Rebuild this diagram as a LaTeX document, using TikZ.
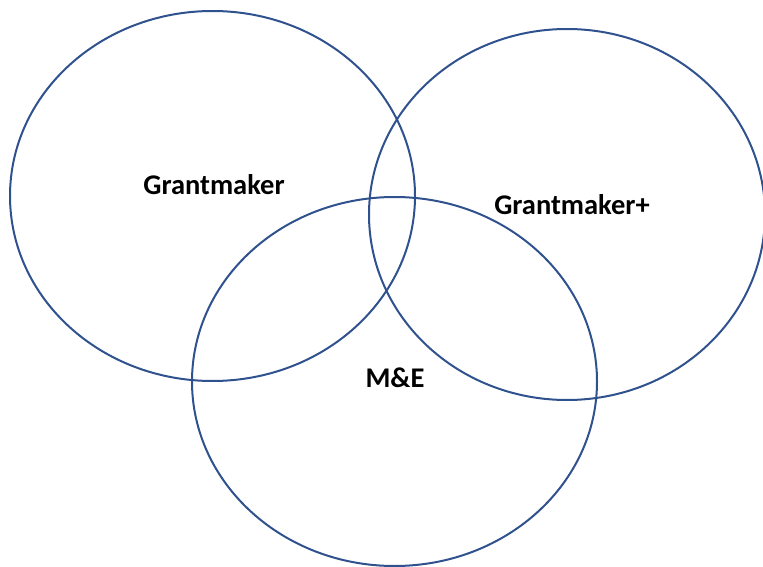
\documentclass[tikz,border=0pt]{standalone}
\usepackage{fontspec}
\setmainfont{Carlito}
\definecolor{ringblue}{RGB}{47,82,143}
\tikzset{ring/.style={draw=ringblue,line width=2pt},
  lbl/.style={anchor=base,font=\bfseries\fontsize{28.5}{32}\selectfont}}

\begin{document}
\begin{tikzpicture}[x=1pt,y=-1pt]
                \useasboundingbox (0,0) rectangle (763,567);
                \draw[ring] (212.5,196) ellipse [x radius=202.5,y radius=185];
                \draw[ring] (567,214.5) ellipse [x radius=198,y radius=185.5];
                \draw[ring] (394.5,381.5) ellipse [x radius=202.5,y radius=184.5];
                \node[lbl] (grant) at (214,194) {Grantmaker};
                \node[lbl] (grantplus) at (572,214) {Grantmaker+};
                \node[lbl] (me) at (395,387) {M\&E};
            \end{tikzpicture}
\end{document}
